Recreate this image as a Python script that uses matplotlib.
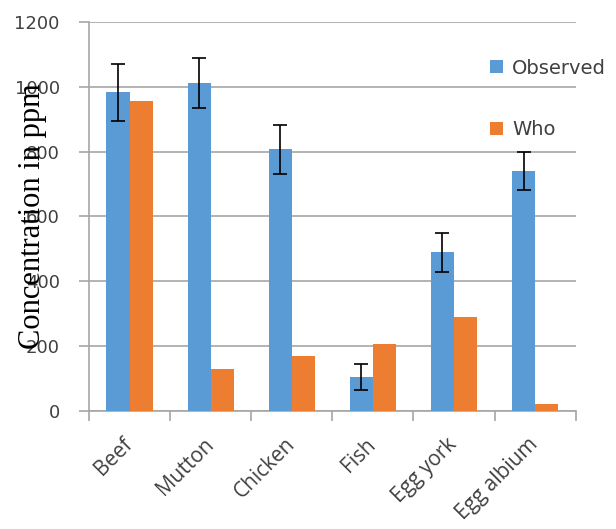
import matplotlib.pyplot as plt
import numpy as np

# data
foods = ['Beef', 'Mutton', 'Chicken', 'Fish', 'Egg york', 'Egg albium']
observed = [984, 1012, 808, 103, 489, 740]
observed_err = [88, 78, 76, 40, 61, 58]
who = [957, 129, 170, 207, 288, 22]
yticks = [0, 200, 400, 600, 800, 1000, 1200]

blue = '#5B9BD5'
orange = '#ED7D31'
grid_c = '#A6A6A6'
text_c = '#404040'

fig = plt.figure(figsize=(6.16, 5.29), dpi=100)
ax = fig.add_axes([0.1445, 0.2236, 0.79, 0.7344])

x = np.arange(len(foods))
w = 0.285
ax.bar(x - w / 2, observed, w, color=blue, label='Observed', zorder=3)
ax.errorbar(x - w / 2, observed, yerr=observed_err, fmt='none', ecolor='black',
            elinewidth=1.2, capsize=5, capthick=1.2, zorder=4)
ax.bar(x + w / 2, who, w, color=orange, label='Who', zorder=3)

ax.set_xlim(-0.5, len(foods) - 0.5)
ax.set_ylim(0, 1200)

# y axis
ax.set_yticks(yticks)
ax.set_yticklabels([str(v) for v in yticks], fontsize=13, color=text_c,
                   family='DejaVu Sans')
ax.yaxis.grid(True, color=grid_c, linewidth=1.2, zorder=0)
ax.tick_params(axis='y', length=7, width=1.2, color=grid_c, pad=14)

# x axis: ticks on category boundaries, labels centred
ax.set_xticks(np.arange(len(foods) + 1) - 0.5)
ax.set_xticklabels([])
ax.set_xticks(x, minor=True)
ax.set_xticklabels(foods, minor=True, rotation=45, ha='right', va='center',
                   rotation_mode='anchor', fontsize=15, color=text_c,
                   family='Open Sans')
ax.tick_params(axis='x', which='major', length=7, width=1.2, color=grid_c)
ax.tick_params(axis='x', which='minor', length=0, pad=22)

for s in ['top', 'right']:
    ax.spines[s].set_visible(False)
for s in ['left', 'bottom']:
    ax.spines[s].set_color(grid_c)
    ax.spines[s].set_linewidth(1.2)
ax.set_axisbelow(True)

ax.set_ylabel('Concentration in ppm', family='Liberation Serif', fontsize=22,
              color='black')
ax.yaxis.set_label_coords(-0.086, 0.5)

fig.legend(loc='upper left', bbox_to_anchor=(0.767, 0.922), frameon=False,
           labelspacing=2.17, handlelength=0.65, handleheight=0.65,
           handletextpad=0.5, labelcolor=text_c,
           prop={'family': 'DejaVu Sans', 'size': 14})

fig.savefig('out.png', dpi=100)
